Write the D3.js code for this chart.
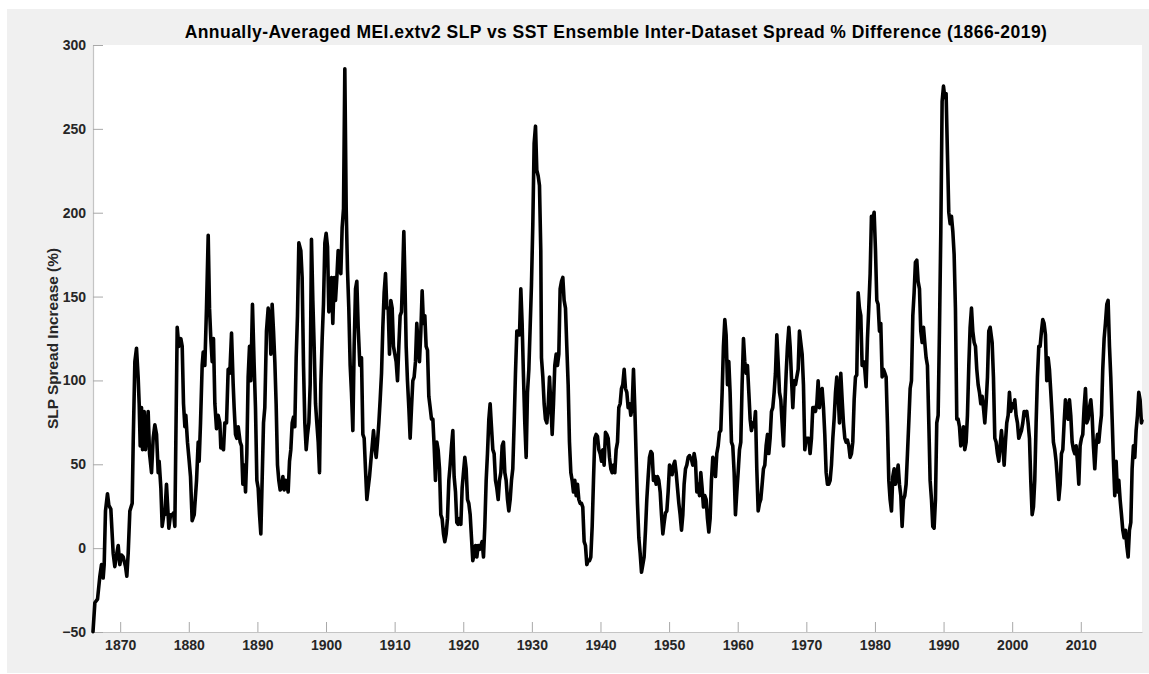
<!DOCTYPE html>
<html>
<head>
<meta charset="utf-8">
<script src="https://cdn.jsdelivr.net/npm/d3@7"></script>
<style>
  html, body { margin: 0; padding: 0; background: #ffffff; }
  svg { display: block; }
  text { font-family: "Liberation Sans", Arial, Helvetica, sans-serif; }
</style>
</head>
<body>
<svg id="chart" width="1149" height="674"></svg>
<script>
const chartTitle = "Annually-Averaged MEI.extv2 SLP vs SST Ensemble Inter-Dataset Spread % Difference (1866-2019)";
const yLabel = "SLP Spread Increase (%)";
const xTickValues = [1870, 1880, 1890, 1900, 1910, 1920, 1930, 1940, 1950, 1960, 1970, 1980, 1990, 2000, 2010];
const yTickValues = [-50, 0, 50, 100, 150, 200, 250, 300];

const years = [
1866.04,1866.31,1866.70,1867.04,1867.28,1867.52,1867.67,1867.86,1868.15,1868.35,1868.64,1868.98,1869.22,1869.47,1869.71,1869.95,
1870.19,1870.44,1870.78,1870.97,1871.17,1871.41,1871.75,1871.90,1872.14,1872.38,1872.62,1872.77,1872.92,1873.11,1873.26,1873.50,
1873.69,1873.89,1874.08,1874.28,1874.57,1874.81,1875.05,1875.30,1875.54,1875.68,1875.93,1876.12,1876.36,1876.51,1876.75,1876.90,
1877.09,1877.34,1877.58,1877.77,1877.97,1878.11,1878.31,1878.55,1878.84,1879.04,1879.23,1879.43,1879.57,1879.81,1880.06,1880.25,
1880.49,1880.79,1881.13,1881.37,1881.51,1881.71,1881.95,1882.10,1882.34,1882.58,1882.83,1883.02,1883.21,1883.41,1883.60,1883.80,
1884.04,1884.28,1884.53,1884.67,1884.87,1885.06,1885.25,1885.50,1885.74,1885.98,1886.23,1886.47,1886.61,1886.81,1886.99,1887.20,
1887.49,1887.68,1887.88,1888.07,1888.27,1888.46,1888.65,1888.85,1889.04,1889.28,1889.53,1889.72,1889.92,1890.11,1890.31,1890.50,
1890.69,1890.89,1891.08,1891.32,1891.57,1891.81,1891.96,1892.15,1892.35,1892.54,1892.73,1892.93,1893.12,1893.32,1893.51,1893.71,
1893.90,1894.09,1894.29,1894.48,1894.68,1894.87,1895.07,1895.26,1895.45,1895.65,1895.84,1896.04,1896.33,1896.52,1896.72,1896.91,
1897.11,1897.30,1897.50,1897.69,1897.88,1898.08,1898.27,1898.47,1898.66,1898.86,1899.05,1899.24,1899.44,1899.63,1899.83,1900.02,
1900.22,1900.41,1900.60,1900.80,1900.99,1901.19,1901.38,1901.58,1901.77,1901.96,1902.16,1902.35,1902.55,1902.74,1902.94,1903.13,
1903.32,1903.52,1903.71,1903.91,1904.10,1904.30,1904.49,1904.69,1904.93,1905.17,1905.37,1905.56,1905.75,1905.95,1906.14,1906.34,
1906.53,1906.73,1906.92,1907.11,1907.31,1907.50,1907.70,1907.89,1908.09,1908.28,1908.47,1908.67,1908.86,1909.06,1909.25,1909.44,
1909.64,1909.83,1910.03,1910.22,1910.42,1910.61,1910.80,1911.00,1911.19,1911.34,1911.48,1911.68,1911.87,1912.07,1912.26,1912.46,
1912.65,1912.84,1913.04,1913.23,1913.43,1913.62,1913.82,1914.01,1914.20,1914.40,1914.59,1914.79,1914.98,1915.18,1915.37,1915.57,
1915.76,1915.95,1916.15,1916.34,1916.54,1916.73,1916.92,1917.12,1917.31,1917.51,1917.70,1917.90,1918.09,1918.29,1918.48,1918.67,
1918.87,1919.06,1919.26,1919.45,1919.65,1919.84,1920.03,1920.23,1920.42,1920.62,1920.81,1921.01,1921.20,1921.39,1921.59,1921.78,
1921.98,1922.17,1922.37,1922.56,1922.75,1922.95,1923.14,1923.34,1923.53,1923.73,1923.92,1924.11,1924.31,1924.50,1924.70,1924.89,
1925.09,1925.28,1925.48,1925.67,1925.86,1926.06,1926.25,1926.45,1926.64,1926.84,1927.03,1927.22,1927.42,1927.61,1927.81,1928.00,
1928.20,1928.39,1928.58,1928.78,1928.97,1929.17,1929.36,1929.56,1929.75,1929.94,1930.14,1930.33,1930.53,1930.72,1930.92,1931.11,
1931.30,1931.40,1931.60,1931.79,1931.98,1932.18,1932.37,1932.57,1932.76,1932.96,1933.15,1933.34,1933.54,1933.73,1933.93,1934.12,
1934.32,1934.51,1934.70,1934.90,1935.09,1935.29,1935.48,1935.68,1935.87,1936.06,1936.26,1936.45,1936.65,1936.84,1937.04,1937.23,
1937.42,1937.62,1937.81,1938.01,1938.20,1938.40,1938.59,1938.79,1938.98,1939.17,1939.37,1939.56,1939.76,1939.95,1940.15,1940.34,
1940.53,1940.73,1940.92,1941.12,1941.31,1941.51,1941.70,1941.89,1942.09,1942.28,1942.48,1942.67,1942.87,1943.06,1943.25,1943.45,
1943.64,1943.84,1944.03,1944.23,1944.42,1944.61,1944.81,1945.00,1945.20,1945.39,1945.59,1945.78,1945.98,1946.17,1946.36,1946.56,
1946.75,1946.95,1947.14,1947.34,1947.53,1947.72,1947.92,1948.11,1948.31,1948.50,1948.70,1948.89,1949.09,1949.28,1949.47,1949.67,
1949.86,1950.06,1950.25,1950.44,1950.64,1950.83,1951.03,1951.22,1951.42,1951.61,1951.81,1952.00,1952.19,1952.39,1952.58,1952.78,
1952.97,1953.07,1953.26,1953.45,1953.65,1953.84,1954.04,1954.23,1954.43,1954.62,1954.81,1955.01,1955.20,1955.40,1955.59,1955.79,
1955.98,1956.17,1956.37,1956.56,1956.76,1956.95,1957.15,1957.34,1957.53,1957.73,1957.92,1958.12,1958.31,1958.51,1958.70,1958.89,
1959.09,1959.28,1959.48,1959.67,1959.87,1960.06,1960.26,1960.45,1960.64,1960.84,1961.03,1961.23,1961.42,1961.62,1961.81,1962.00,
1962.20,1962.39,1962.59,1962.78,1962.98,1963.17,1963.36,1963.56,1963.75,1963.95,1964.14,1964.34,1964.53,1964.72,1964.92,1965.11,
1965.31,1965.50,1965.70,1965.89,1966.09,1966.28,1966.47,1966.67,1966.86,1967.06,1967.25,1967.45,1967.64,1967.83,1968.03,1968.22,
1968.42,1968.61,1968.81,1969.00,1969.19,1969.39,1969.58,1969.78,1969.97,1970.17,1970.36,1970.55,1970.75,1970.94,1971.14,1971.33,
1971.53,1971.72,1971.91,1972.11,1972.30,1972.50,1972.69,1972.89,1973.08,1973.27,1973.47,1973.66,1973.86,1974.05,1974.25,1974.44,
1974.64,1974.83,1975.02,1975.22,1975.41,1975.61,1975.80,1975.99,1976.19,1976.38,1976.58,1976.77,1976.97,1977.16,1977.35,1977.55,
1977.74,1977.94,1978.13,1978.33,1978.52,1978.71,1978.91,1979.10,1979.30,1979.49,1979.69,1979.88,1980.08,1980.27,1980.46,1980.66,
1980.85,1981.05,1981.24,1981.44,1981.63,1981.82,1982.02,1982.21,1982.41,1982.60,1982.80,1982.99,1983.18,1983.38,1983.57,1983.77,
1983.96,1984.16,1984.35,1984.54,1984.74,1984.93,1985.13,1985.32,1985.52,1985.71,1985.90,1986.10,1986.29,1986.49,1986.68,1986.88,
1987.07,1987.26,1987.46,1987.65,1987.85,1988.04,1988.24,1988.43,1988.62,1988.82,1989.01,1989.21,1989.40,1989.60,1989.79,1989.99,
1990.18,1990.37,1990.57,1990.76,1990.96,1991.15,1991.35,1991.54,1991.73,1991.93,1992.12,1992.32,1992.51,1992.71,1992.90,1993.09,
1993.29,1993.48,1993.68,1993.87,1994.07,1994.26,1994.46,1994.65,1994.84,1995.04,1995.23,1995.43,1995.62,1995.81,1996.01,1996.20,
1996.40,1996.59,1996.79,1997.08,1997.27,1997.47,1997.66,1997.85,1998.05,1998.24,1998.44,1998.63,1998.83,1999.02,1999.21,1999.41,
1999.60,1999.80,1999.99,2000.19,2000.38,2000.57,2000.77,2000.96,2001.16,2001.35,2001.55,2001.74,2001.93,2002.13,2002.32,2002.52,
2002.71,2002.91,2003.10,2003.29,2003.49,2003.68,2003.88,2004.07,2004.27,2004.46,2004.65,2004.85,2005.04,2005.24,2005.43,2005.63,
2005.82,2006.01,2006.21,2006.40,2006.60,2006.79,2006.99,2007.18,2007.38,2007.57,2007.76,2007.96,2008.15,2008.35,2008.54,2008.74,
2008.93,2009.12,2009.32,2009.51,2009.71,2009.90,2010.10,2010.29,2010.48,2010.68,2010.87,2011.07,2011.26,2011.46,2011.65,2011.84,
2012.04,2012.23,2012.43,2012.62,2012.82,2013.01,2013.20,2013.40,2013.59,2013.79,2013.98,2014.18,2014.37,2014.57,2014.76,2014.95,
2015.15,2015.34,2015.54,2015.73,2015.93,2016.12,2016.31,2016.51,2016.70,2016.90,2017.09,2017.29,2017.48,2017.67,2017.87,2018.06,
2018.26,2018.45,2018.64,2018.84,2018.92
];

const values = [
-49.8,-32.6,-30.4,-16.7,-9.8,-17.8,-9.8,22.2,32.4,25.6,23.3,-3.0,-11.0,-4.1,1.6,-9.8,
-4.1,-5.3,-11.0,-16.7,-3.0,22.2,26.7,63.2,111.2,119.2,102.0,86.1,61.0,83.8,58.7,81.5,
58.7,70.1,81.5,56.4,45.0,65.5,73.5,67.8,45.0,51.8,35.9,13.0,19.9,19.9,38.1,26.7,
11.9,19.9,19.9,21.0,13.0,63.2,131.7,120.3,124.9,120.3,86.1,72.4,79.2,63.2,51.8,42.7,
16.4,19.9,40.4,63.2,51.8,74.7,108.9,116.9,108.9,143.1,186.5,143.1,124.9,111.2,124.9,86.1,
71.2,79.2,74.7,59.8,59.8,58.7,74.7,74.7,106.6,104.3,128.3,97.5,83.8,67.8,65.5,72.4,
63.2,61.0,38.1,49.5,33.5,56.4,102.0,120.3,99.8,145.4,108.9,83.8,40.4,35.9,19.9,8.5,
40.4,74.7,83.8,129.4,143.1,134.0,115.7,145.4,129.4,111.2,86.1,49.5,40.4,34.7,35.9,42.7,
34.7,40.4,38.1,33.5,51.8,58.7,74.7,78.1,72.4,113.5,138.6,182.0,177.4,161.4,108.9,74.7,
58.7,67.8,74.7,97.5,184.2,147.7,120.3,86.1,74.7,63.2,45.0,97.5,124.9,145.4,182.0,187.7,
179.7,140.9,156.8,161.4,134.0,161.4,147.7,161.4,177.4,166.0,163.7,191.1,202.5,285.8,202.5,166.0,
143.1,108.9,92.9,70.1,120.3,154.6,159.1,131.7,108.9,113.5,67.8,65.5,47.3,29.0,35.9,42.7,
51.8,61.0,70.1,61.0,54.1,63.2,74.7,88.4,104.3,131.7,152.3,163.7,143.1,143.1,115.7,147.7,
143.1,120.3,115.7,111.2,99.8,120.3,138.6,140.9,166.0,188.8,163.7,120.3,99.8,83.8,65.5,83.8,
99.8,102.0,111.2,134.0,120.3,111.2,129.4,153.5,134.0,138.6,120.3,118.0,90.6,83.8,76.9,76.9,
61.0,40.4,63.2,58.7,47.3,19.9,17.6,8.5,3.9,8.5,17.6,40.4,49.5,61.0,70.1,42.7,
33.5,15.3,14.2,17.6,14.2,35.9,45.0,54.1,47.3,29.0,26.7,19.9,6.2,-7.5,-3.0,1.6,
-5.3,1.6,-0.7,1.6,3.9,-5.3,13.0,40.4,56.4,76.9,86.1,72.4,58.7,56.4,40.4,35.9,
29.0,40.4,45.0,61.0,63.2,45.0,40.4,29.0,22.2,29.0,40.4,47.3,74.7,104.3,129.4,129.4,
127.2,154.6,134.0,102.0,74.7,54.1,92.9,106.6,131.7,156.8,193.4,241.3,251.6,225.3,221.9,216.2,
177.4,113.5,102.0,86.1,76.9,74.7,83.8,102.0,86.1,67.8,86.1,108.9,115.7,108.9,115.7,154.6,
159.1,161.4,147.7,143.1,120.3,97.5,63.2,45.0,40.4,33.5,40.4,31.3,38.1,29.0,26.7,26.7,
24.5,3.9,1.6,-9.8,-7.5,-7.5,-5.3,13.0,40.4,65.5,67.8,66.7,58.7,56.4,51.8,58.7,
49.5,69.0,67.8,65.5,54.1,47.3,45.0,49.5,45.0,58.7,63.2,83.8,86.1,95.2,97.5,106.6,
95.2,92.9,83.8,86.1,79.2,83.8,106.6,83.8,54.1,26.7,6.2,-3.0,-14.4,-9.8,-5.3,10.7,
29.0,42.7,54.1,57.6,56.4,40.4,42.7,38.1,42.7,40.4,33.5,19.9,8.5,15.3,21.0,22.2,
33.5,49.5,47.3,43.8,49.5,51.8,45.0,35.9,26.7,19.9,10.7,19.9,38.1,47.3,49.5,54.1,
55.2,54.1,53.0,49.5,56.4,51.8,33.5,38.1,31.3,45.0,35.9,24.5,31.3,29.0,17.6,9.6,
17.6,40.4,54.1,51.8,42.7,56.4,61.0,69.0,70.1,92.9,120.3,136.3,127.2,97.5,111.2,92.9,
63.2,61.0,45.0,19.9,33.5,45.0,58.7,63.2,97.5,124.9,111.2,104.3,108.9,92.9,76.9,70.1,
74.7,72.4,81.5,47.3,22.2,26.7,29.0,38.1,47.3,49.5,61.0,67.8,56.4,65.5,81.5,83.8,
92.9,104.3,127.2,111.2,92.9,88.4,74.7,61.0,83.8,104.3,120.3,131.7,120.3,102.0,83.8,99.8,
97.5,102.0,106.6,129.4,122.6,115.7,97.5,58.7,65.5,65.5,65.5,56.4,65.5,83.8,83.8,81.5,
86.1,99.8,83.8,92.9,95.2,83.8,67.8,45.0,38.1,38.1,40.4,49.5,65.5,76.9,92.9,102.0,
90.6,74.7,104.3,88.4,74.7,65.5,63.2,64.4,61.0,54.1,56.4,63.2,88.4,102.0,103.2,152.3,
143.1,138.6,108.9,111.2,106.6,96.3,124.9,143.1,163.7,197.9,195.6,200.2,177.4,147.7,145.4,129.4,
134.0,102.0,106.6,104.3,102.0,74.7,40.4,29.0,22.2,42.7,47.3,38.1,42.7,49.5,38.1,31.3,
13.0,29.0,31.3,38.1,56.4,74.7,95.2,99.8,138.6,152.3,170.5,171.7,159.1,154.6,129.4,122.6,
131.7,122.6,113.5,108.9,74.7,40.4,29.0,13.0,11.9,29.0,74.7,79.2,129.4,188.8,266.4,275.5,
268.7,271.0,234.5,200.2,193.4,197.9,188.8,175.1,143.1,76.9,76.9,72.4,61.0,63.2,72.4,58.7,
63.2,79.2,108.9,131.7,143.1,129.4,122.6,120.3,106.6,97.5,92.9,86.1,90.6,83.8,74.7,86.1,
102.0,129.4,131.7,122.6,102.0,65.5,63.2,56.4,51.8,61.0,70.1,61.0,49.5,63.2,74.7,79.2,
92.9,81.5,86.1,83.8,88.4,79.2,74.7,65.5,67.8,70.1,74.7,81.5,79.2,81.5,74.7,65.5,
40.4,19.9,24.5,40.4,74.7,102.0,120.3,120.3,129.4,136.3,134.0,127.2,99.8,113.5,106.6,92.9,
79.2,63.2,58.7,51.8,40.4,29.0,38.1,56.4,58.7,74.7,88.4,79.2,76.9,88.4,79.2,63.2,
58.7,56.4,61.0,51.8,38.1,61.0,65.5,67.8,83.8,95.2,74.7,76.9,83.8,88.4,79.2,61.0,
47.3,61.0,67.8,63.2,72.4,79.2,106.6,124.9,134.0,145.4,147.7,120.3,102.0,76.9,51.8,31.3,
51.8,33.5,40.4,29.0,19.9,10.7,6.2,10.7,1.6,-5.3,10.7,15.3,47.3,61.0,54.1,70.1,
79.2,92.9,88.4,74.7,76.0
];

const W = 1149, H = 674;
const plot = { left: 93, right: 1142, top: 45, bottom: 632 };

const svg = d3.select("#chart");

// figure background
svg.append("rect")
  .attr("x", 7).attr("y", 9).attr("width", W - 7).attr("height", 664)
  .attr("fill", "#f0f0f0");

// axes background
svg.append("rect")
  .attr("x", plot.left).attr("y", plot.top)
  .attr("width", plot.right - plot.left).attr("height", plot.bottom - plot.top)
  .attr("fill", "#ffffff");

const data = years.map((y, i) => ({ year: y, value: values[i] }));

const x = d3.scaleLinear()
  .domain(d3.extent(years))
  .range([plot.left, plot.right]);

const y = d3.scaleLinear()
  .domain([-50, 300])
  .range([plot.bottom, plot.top]);

// x axis
const xAxis = d3.axisBottom(x)
  .tickValues(xTickValues)
  .tickFormat(d3.format("d"))
  .tickSizeInner(-10)
  .tickSizeOuter(0)
  .tickPadding(8);

const gx = svg.append("g")
  .attr("transform", `translate(0,${plot.bottom})`)
  .call(xAxis);

// y axis
const yAxis = d3.axisLeft(y)
  .tickValues(yTickValues)
  .tickFormat(d3.format("d"))
  .tickSizeInner(-10)
  .tickSizeOuter(0)
  .tickPadding(7);

const gy = svg.append("g")
  .attr("transform", `translate(${plot.left},0)`)
  .call(yAxis);

[gx, gy].forEach(g => {
  g.select(".domain").attr("stroke", "#c4c4c4").attr("stroke-width", 1.2);
  g.selectAll(".tick line").attr("stroke", "#a8a8a8").attr("stroke-width", 1);
  g.selectAll(".tick text")
    .attr("fill", "#262626")
    .style("font-size", "14px")
    .style("font-weight", "bold")
    .style("font-family", "'Liberation Sans', Arial, Helvetica, sans-serif");
});

// line
const line = d3.line()
  .x(d => x(d.year))
  .y(d => y(d.value));

svg.append("path")
  .datum(data)
  .attr("d", line)
  .attr("fill", "none")
  .attr("stroke", "#000000")
  .attr("stroke-width", 3.6)
  .attr("stroke-linejoin", "round")
  .attr("stroke-linecap", "round");

// title
svg.append("text")
  .attr("x", 616)
  .attr("y", 38)
  .attr("text-anchor", "middle")
  .attr("fill", "#000000")
  .style("font-size", "17.5px")
  .style("letter-spacing", "0.45px")
  .style("font-weight", "bold")
  .text(chartTitle);

// y label
svg.append("text")
  .attr("transform", `translate(58,${(plot.top + plot.bottom) / 2}) rotate(-90)`)
  .attr("text-anchor", "middle")
  .attr("fill", "#262626")
  .style("font-size", "15.4px")
  .style("font-weight", "bold")
  .text(yLabel);
</script>
</body>
</html>
